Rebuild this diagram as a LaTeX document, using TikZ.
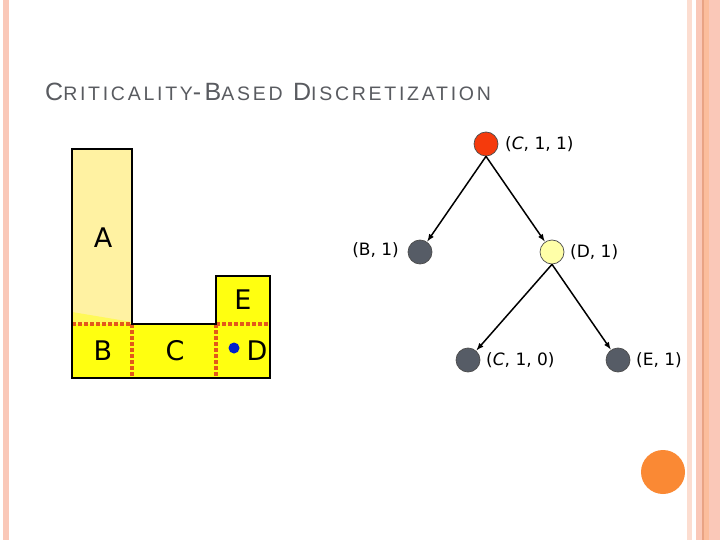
\documentclass[tikz,border=0pt]{standalone}
\usepackage{fontspec}
\setmainfont{DejaVu Sans}
\newfontfamily\titlefont[LetterSpace=14]{Liberation Sans}
\usetikzlibrary{arrows}
\definecolor{stripe}{HTML}{FAC8B8}
\definecolor{stripelt}{HTML}{FCDDD0}
\definecolor{stripedk}{HTML}{E9A384}
\definecolor{paleA}{HTML}{FFF2A2}
\definecolor{brightY}{HTML}{FFFF10}
\definecolor{cut}{HTML}{E3591A}
\definecolor{rootred}{HTML}{F53A0C}
\definecolor{leafgray}{HTML}{565C66}
\definecolor{paleD}{HTML}{FFFFA8}
\definecolor{dotorange}{HTML}{FA8934}
\definecolor{titlegray}{HTML}{595B60}
\newcommand{\tcap}[2]{{\fontsize{25}{25}\selectfont #1}{\fontsize{19.5}{19.5}\selectfont #2}}
\begin{document}
\begin{tikzpicture}[x=1pt,y=-1pt,
  vertex/.style={circle,draw=black!70,line width=0.7pt,minimum size=24pt,inner sep=0pt},
  lbl/.style={font=\fontsize{17}{17}\selectfont,inner sep=0pt},
  region/.style={font=\fontsize{27}{27}\selectfont,inner sep=0pt},
  cutline/.style={cut,line width=3.5pt,dash pattern=on 3.5pt off 2.5pt},
  edge/.style={-latex,line width=1.5pt,shorten >=0.5pt}]
\useasboundingbox (0,0) rectangle (720,540);
\fill[white] (0,0) rectangle (720,540);
\fill[stripe] (3,0) rectangle (9,540);
\fill[stripelt] (687,0) rectangle (692,540);
\fill[stripe] (696,0) rectangle (720,540);
\fill[stripedk] (702,0) rectangle (703.5,540);
\fill[stripe!85!orange] (703.5,0) rectangle (709,540);

\node[anchor=base west,inner sep=0pt,text=titlegray,font=\titlefont\fontsize{25}{25}\selectfont] (title) at (45,101)
  {\tcap{C}{RITICALITY}\tcap{-B}{ASED} \tcap{D}{ISCRETIZATION}};

\fill[paleA] (72,149) rectangle (132,324);
\fill[paleA!50!brightY] (72,312) -- (132,322) -- (132,324) -- (72,324) -- cycle;
\fill[brightY] (72,324) rectangle (270,378);
\fill[brightY] (216,276) rectangle (270,324);
\draw[cutline] (72,324) -- (132,324);
\draw[cutline] (216,324) -- (270,324);
\draw[cutline] (132,324) -- (132,378);
\draw[cutline] (216,324) -- (216,378);
\draw[line width=2.8pt,line join=miter] (72,149) -- (132,149) -- (132,324) -- (216,324) -- (216,276)
  -- (270,276) -- (270,378) -- (72,378) -- cycle;
\node[region] (A) at (103,238) {A};
\node[region] (B) at (103,351) {B};
\node[region] (C) at (175,351) {C};
\node[region] (E) at (243,300) {E};
\node[region] (D) at (257,351) {D};
\fill[blue!85!cyan!80!black] (234,348) circle (5.5);

\node[vertex,fill=rootred] (c11) at (486,144) {};
\node[vertex,fill=leafgray] (b1) at (420,252) {};
\node[vertex,fill=paleD] (d1) at (552,252) {};
\node[vertex,fill=leafgray] (c10) at (468,360) {};
\node[vertex,fill=leafgray] (e1) at (618,360) {};
\node[lbl,anchor=west] (lc11) at (505,144) {(\textit{C}, 1, 1)};
\node[lbl,anchor=east] (lb1) at (399,250) {(B, 1)};
\node[lbl,anchor=west] (ld1) at (570,252) {(D, 1)};
\node[lbl,anchor=west] (lc10) at (486,360) {(\textit{C}, 1, 0)};
\node[lbl,anchor=west] (le1) at (636,360) {(E, 1)};

\draw[edge] (c11.south) -- (b1);
\draw[edge] (c11.south) -- (d1);
\draw[edge] (d1.south) -- (c10);
\draw[edge] (d1.south) -- (e1);

\fill[dotorange] (663,472) circle (22);
\end{tikzpicture}
\end{document}
